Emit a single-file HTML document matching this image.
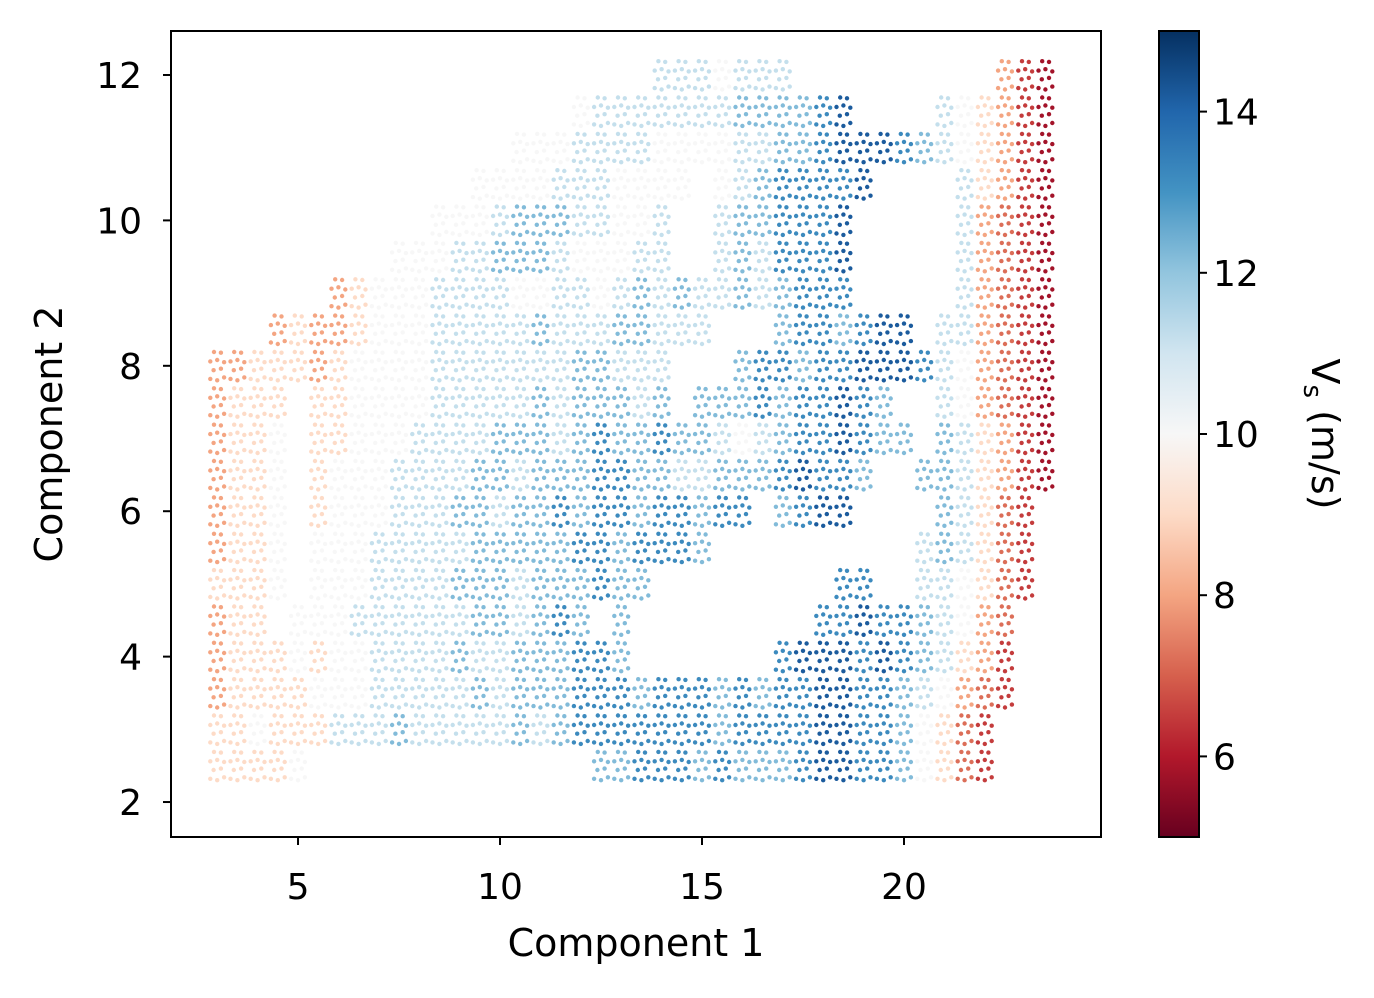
<!DOCTYPE html>
<html><head><meta charset="utf-8"><style>
body{margin:0;background:#fff;}
svg{display:block;font-family:"DejaVu Sans","Liberation Sans",sans-serif;}
</style></head><body>
<svg id="chart" width="1374" height="998" viewBox="0 0 1374 998" xmlns="http://www.w3.org/2000/svg">
<defs>
<linearGradient id="cbgrad" x1="0" y1="1" x2="0" y2="0">
<stop offset="0" stop-color="#67001f"/><stop offset="0.1" stop-color="#b2182b"/><stop offset="0.2" stop-color="#d6604d"/><stop offset="0.3" stop-color="#f4a582"/><stop offset="0.4" stop-color="#fddbc7"/><stop offset="0.5" stop-color="#f7f7f7"/><stop offset="0.6" stop-color="#d1e5f0"/><stop offset="0.7" stop-color="#92c5de"/><stop offset="0.8" stop-color="#4393c3"/><stop offset="0.9" stop-color="#2166ac"/><stop offset="1" stop-color="#053061"/>
</linearGradient>
<clipPath id="plotclip"><rect x="171" y="31" width="930" height="806"/></clipPath>
</defs>
<g id="points" clip-path="url(#plotclip)"></g>
<rect x="171" y="31" width="930" height="806" fill="none" stroke="#000" stroke-width="2"/>
<g id="xaxis"></g>
<g id="yaxis"></g>
<text x="636" y="956" font-size="38" text-anchor="middle">Component 1</text>
<text transform="translate(62,434) rotate(-90)" font-size="38" text-anchor="middle">Component 2</text>
<rect x="1159" y="31" width="40" height="806" fill="url(#cbgrad)" stroke="#000" stroke-width="2"/>
<g id="cbaxis"></g>
<text transform="translate(1312,434) rotate(90)" font-size="38" text-anchor="middle">V<tspan font-size="26" dy="8">s</tspan><tspan dy="-8"> (m/s)</tspan></text>
</svg>
<script>
// grid of colour codes: rows are y levels, columns x levels
const gridX0 = 3.0, gridDX = 0.5;
const gridYs = [12,11.5,11,10.5,10,9.5,9,8.5,8,7.5,7,6.5,6,5.5,5,4.5,4,3.5,3,2.5];
const gridRows = [
"......................gggfggg..........dba",
"..................fggggggghhhhij....gfedba",
"...............fffggggffffgghhijjjihgfedba",
".............ffffgggffff.fghiiiij....gedba",
"...........fffghhhggffg..ghhiiij.....gdcba",
".........fffgghhhgfffgg..ghgiiij.....gdcba",
"......defffggggffggfghghgghghiii.....gdcba",
"...deddefffggggghggghhggg...hiihijj.ggdcba",
"ddeeedeffffggggggghhggg...hiihiijjjigfdcba",
"deee.eeffffggggghghhhgh.hhhihiijih..gfdcba",
"deef.eefffgggghhhghihhihhgfghiijihh.hgedba",
"deef.efffgggghhghhhiihhgghhhijiih..hhgedba",
"deef.efffggghhghhihiihiihii.hijj....hgecb.",
"deef.fffggggghhhhhiihiiih..........ghgecb.",
"eeef.fffgggghhhghhhihh.........ii..ggfecb.",
"dee.fffgggggghhghih.h.........iijiihgfdc..",
"deeefeffgggghgghhhiih.......ijjjijihgedb..",
"deeeefffggggghghhhiiihiiihihiijjiihgfdcb..",
"eefeeeggghggggghghiiiiiiihiiiijjiihfecb...",
"eeeef..............hhiiihihhhijjiihfecb..."
];
const codeLetters = ["a","b","c","d","e","f","g","h","i","j"];
const codeValues = [5.8,6.5,7.2,8.0,9.0,10.0,11.2,12.2,13.2,14.2];
const xTicks = [5,10,15,20];
const yTicks = [2,4,6,8,10,12];
const cbTicks = [6,8,10,12,14];

const NS="http://www.w3.org/2000/svg";
const X0=171,X1=1101,Y0=837,Y1=31;
const xmin=1.856,xmax=24.876,ymin=1.519,ymax=12.605;
const sx=v=>X0+(v-xmin)/(xmax-xmin)*(X1-X0);
const sy=v=>Y0-(v-ymin)/(ymax-ymin)*(Y0-Y1);
const cbmin=5,cbmax=15;
const sc=v=>837-(v-cbmin)/(cbmax-cbmin)*806;
const stops=[[103,0,31],[178,24,43],[214,96,77],[244,165,130],[253,219,199],[247,247,247],[209,229,240],[146,197,222],[67,147,195],[33,102,172],[5,48,97]];
function cmap(v){let t=(v-cbmin)/(cbmax-cbmin);t=Math.max(0,Math.min(1,t))*10;let i=Math.min(9,Math.floor(t)),f=t-i;
const a=stops[i],b=stops[i+1];return `rgb(${a.map((c,k)=>Math.round(c+(b[k]-c)*f)).join(",")})`;}
function el(tag,attrs,parent){const e=document.createElementNS(NS,tag);for(const k in attrs)e.setAttribute(k,attrs[k]);parent.appendChild(e);return e;}

const pts=document.getElementById("points");
const offs=[[-0.17,-0.18],[0,-0.2],[0.17,-0.16],[-0.09,-0.06],[0.09,-0.04],[-0.17,0.06],[0,0.08],[0.17,0.05],[-0.08,0.19],[0.09,0.18]];
gridRows.forEach((row,r)=>{
  for(let c=0;c<row.length;c++){
    const idx=codeLetters.indexOf(row[c]); if(idx<0) continue;
    const v=codeValues[idx], cx=gridX0+c*gridDX, cy=gridYs[r];
    const col=cmap(v);
    offs.forEach(o=>{
      const d=el("circle",{cx:sx(cx+o[0]).toFixed(1),cy:sy(cy+o[1]).toFixed(1),r:2.2,fill:col},pts);
      
      
    });
  }
});
const xa=document.getElementById("xaxis");
xTicks.forEach(t=>{
  const l=el("line",{x1:sx(t),x2:sx(t),y1:837,y2:845,stroke:"#000","stroke-width":2},xa);
  
  
  const tx=el("text",{x:sx(t),y:899,"font-size":36,"text-anchor":"middle"},xa);tx.textContent=t;
  
  
});
const ya=document.getElementById("yaxis");
yTicks.forEach(t=>{
  const l=el("line",{x1:163,x2:171,y1:sy(t),y2:sy(t),stroke:"#000","stroke-width":2},ya);
  
  
  const tx=el("text",{x:142,y:sy(t)+13,"font-size":36,"text-anchor":"end"},ya);tx.textContent=t;
  
  
});
const ca=document.getElementById("cbaxis");
cbTicks.forEach(t=>{
  const l=el("line",{x1:1199,x2:1207,y1:sc(t),y2:sc(t),stroke:"#000","stroke-width":2},ca);
  
  
  const tx=el("text",{x:1213,y:sc(t)+13,"font-size":36},ca);tx.textContent=t;
  
  
});
</script>
</body></html>
